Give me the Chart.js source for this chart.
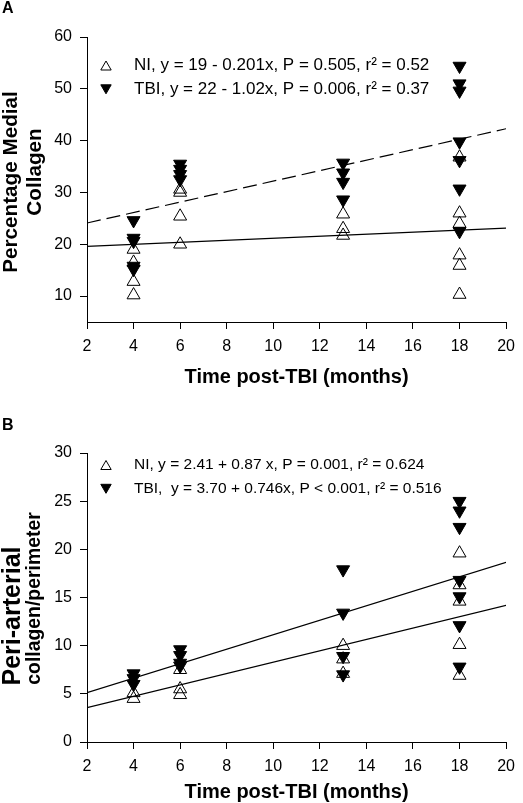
<!DOCTYPE html>
<html><head><meta charset="utf-8">
<script src="https://cdn.jsdelivr.net/npm/chart.js@4.4.1/dist/chart.umd.min.js"></script>
<style>
html,body{margin:0;padding:0;background:#fff;}
#wrap{position:relative;width:523px;height:803px;overflow:hidden;background:#fff;}
canvas{position:absolute;left:0;}
#cA{top:0;} #cB{top:400px;}
.pl{position:absolute;left:2px;font:bold 16px "Liberation Sans", Arial, sans-serif;color:#000;line-height:normal;}
</style></head><body>
<div id="wrap">
<canvas id="cA" width="523" height="400"></canvas>
<canvas id="cB" width="523" height="403"></canvas>
<div class="pl" style="top:-1px">A</div>
<div class="pl" style="top:416px">B</div>
</div>
<script>
// ---- data ----
const months = [4, 6, 13, 18];
// Panel A: percentage medial collagen, one inner list per month
const medialNI  = [[19.0, 16.5, 12.8, 10.2], [30.6, 30.0, 25.4, 20.0], [25.8, 23.0, 21.7], [36.8, 26.0, 24.0, 17.9, 15.9, 10.3]];
const medialTBI = [[24.6, 21.2, 20.6, 15.8, 15.2], [35.5, 34.5, 33.5, 32.5], [35.7, 33.8, 32.0, 28.6], [54.4, 51.0, 49.6, 39.8, 36.2, 30.7, 22.5]];
// Panel B: peri-arterial collagen / perimeter
const periNI  = [[5.1, 4.5], [7.5, 5.5, 4.9], [10.0, 8.6, 7.1], [19.6, 16.3, 14.6, 10.1, 6.9]];
const periTBI = [[7.1, 6.6, 6.0], [9.6, 9.0, 8.2, 7.9], [17.9, 13.4, 8.9, 7.0], [25.0, 24.0, 22.3, 16.8, 15.1, 12.1, 7.8]];
// regression lines (end points read at x = 2 and x = 20)
const fitMonths = [2, 20];
const medialFitNI  = [19.6, 23.1];
const medialFitTBI = [24.1, 42.3];
const periFitNI  = [3.57, 14.19];
const periFitTBI = [5.13, 18.66];
// tick labels
const monthTicks = [2, 4, 6, 8, 10, 12, 14, 16, 18, 20];
const medialTicks = [10, 20, 30, 40, 50, 60];
const periTicks = [0, 5, 10, 15, 20, 25, 30];
// legend texts
const medialLabels = ['NI, y = 19 - 0.201x, P = 0.505, r\u00B2 = 0.52', 'TBI, y = 22 - 1.02x, P = 0.006, r\u00B2 = 0.37'];
const periLabels = ['NI, y = 2.41 + 0.87 x, P = 0.001, r\u00B2 = 0.624', 'TBI,  y = 3.70 + 0.746x, P < 0.001, r\u00B2 = 0.516'];

const FAMILY = '"Liberation Sans", Arial, Helvetica, sans-serif';
Chart.defaults.font.family = FAMILY;
Chart.defaults.color = '#000';

function pts(groups) {
  const out = [];
  groups.forEach((vals, i) => vals.forEach(v => out.push({x: months[i], y: v})));
  return out;
}
function fitPts(vals) { return fitMonths.map((m, i) => ({x: m, y: vals[i]})); }

function drawTri(ctx, x, y, r, rotDeg, fill, stroke) {
  let rad = rotDeg * Math.PI / 180;
  ctx.beginPath();
  for (let k = 0; k < 3; k++) {
    const px = x + Math.sin(rad) * r, py = y - Math.cos(rad) * r;
    if (k === 0) ctx.moveTo(px, py); else ctx.lineTo(px, py);
    rad += 2 * Math.PI / 3;
  }
  ctx.closePath();
  ctx.fillStyle = fill; ctx.fill();
  ctx.lineWidth = 1; ctx.strokeStyle = stroke; ctx.stroke();
}

const eqLegend = {
  id: 'eqLegend',
  afterDraw(chart, args, opts) {
    const ctx = chart.ctx;
    ctx.save();
    ctx.font = opts.fontSize + 'px ' + FAMILY;
    ctx.textBaseline = 'middle';
    ctx.textAlign = 'left';
    [0, 1].forEach(i => {
      const ds = chart.data.datasets[i];
      const y = opts.y0 + i * opts.dy;
      drawTri(ctx, opts.markerX, y + (i === 0 ? 1.5 : -1.5), opts.r, ds.pointRotation, ds.pointBackgroundColor, ds.pointBorderColor);
      ctx.fillStyle = '#000';
      ctx.fillText(ds.label, opts.textX, y);
    });
    ctx.restore();
  }
};

const yTitle = {
  id: 'yTitle',
  afterDraw(chart, args, opts) {
    const ctx = chart.ctx;
    ctx.save();
    ctx.fillStyle = '#000';
    ctx.textAlign = 'center';
    ctx.textBaseline = 'middle';
    opts.lines.forEach(l => {
      ctx.save();
      ctx.font = 'bold ' + l.size + 'px ' + FAMILY;
      ctx.translate(l.x, l.y);
      ctx.rotate(-Math.PI / 2);
      ctx.fillText(l.text, 0, 0);
      ctx.restore();
    });
    ctx.restore();
  }
};

function makeChart(id, c) {
  const axisCommon = {
    grid: {display: true, drawOnChartArea: false, drawTicks: true, tickLength: 7, color: '#000', lineWidth: 1},
    border: {display: true, color: '#000', width: 1},
  };
  return new Chart(document.getElementById(id), {
    type: 'scatter',
    data: {datasets: [
      {label: c.labels[0], data: pts(c.ni), pointStyle: 'triangle', pointRotation: 0, pointRadius: 7.5,
       pointBackgroundColor: 'rgba(0,0,0,0)', pointBorderColor: '#000', pointBorderWidth: 1,
       backgroundColor: 'rgba(0,0,0,0)', borderColor: '#000', clip: false},
      {label: c.labels[1], data: pts(c.tbi), pointStyle: 'triangle', pointRotation: 180, pointRadius: 7.5,
       pointBackgroundColor: '#000', pointBorderColor: '#000', pointBorderWidth: 1,
       backgroundColor: '#000', borderColor: '#000', clip: false},
      {type: 'line', label: 'NI fit', data: fitPts(c.fitNI), borderColor: '#000', borderWidth: 1.2,
       pointRadius: 0, pointHoverRadius: 0, fill: false, tension: 0},
      {type: 'line', label: 'TBI fit', data: fitPts(c.fitTBI), borderColor: '#000', borderWidth: 1.2,
       borderDash: c.dash, pointRadius: 0, pointHoverRadius: 0, fill: false, tension: 0}
    ]},
    options: {
      responsive: false, animation: false, devicePixelRatio: 1, events: [],
      layout: {padding: {left: 0, right: 11, top: c.padTop, bottom: 0}},
      plugins: {
        legend: {display: false}, tooltip: {enabled: false},
        eqLegend: {markerX: 106, textX: 134, y0: c.legendY0, dy: 23.8, r: 6, fontSize: c.legendSize},
        yTitle: {lines: c.yTitleLines}
      },
      scales: {
        x: Object.assign({}, axisCommon, {
          type: 'linear', position: 'bottom', min: 2, max: 20,
          afterBuildTicks: s => { s.ticks = monthTicks.map(v => ({value: v})); },
          ticks: {font: {size: 16}, color: '#000', padding: 8, maxRotation: 0, autoSkip: false},
          title: {display: true, text: 'Time post-TBI (months)', color: '#000',
                  font: {size: 20, weight: 'bold', lineHeight: 1.1}, padding: {top: 0, bottom: c.xTitlePad}},
          afterFit: s => { s.height = c.xHeight; }
        }),
        y: Object.assign({}, axisCommon, {
          type: 'linear', position: 'left', min: c.yMin, max: c.yMax,
          afterBuildTicks: s => { s.ticks = c.yTicks.map(v => ({value: v})); },
          ticks: {font: {size: 16}, color: '#000', padding: 8},
          afterFit: s => { s.width = 87; }
        })
      }
    },
    plugins: [eqLegend, yTitle]
  });
}

makeChart('cA', {
  ni: medialNI, tbi: medialTBI, fitNI: medialFitNI, fitTBI: medialFitTBI, dash: [14, 6],
  labels: medialLabels, yMin: 5, yMax: 60, yTicks: medialTicks,
  padTop: 37, xHeight: 78, xTitlePad: 12, legendY0: 65.5, legendSize: 17,
  yTitleLines: [{text: 'Percentage Medial', size: 20.7, x: 11.7, y: 182}, {text: 'Collagen', size: 20.7, x: 35, y: 172}]
});
makeChart('cB', {
  ni: periNI, tbi: periTBI, fitNI: periFitNI, fitTBI: periFitTBI, dash: [],
  labels: periLabels, yMin: 0, yMax: 30, yTicks: periTicks,
  padTop: 53, xHeight: 61, xTitlePad: 0, legendY0: 65, legendSize: 15.5,
  yTitleLines: [{text: 'Peri-arterial', size: 25, x: 13.5, y: 216}, {text: 'collagen/perimeter', size: 19.4, x: 35, y: 198.5}]
});
</script>
</body></html>
